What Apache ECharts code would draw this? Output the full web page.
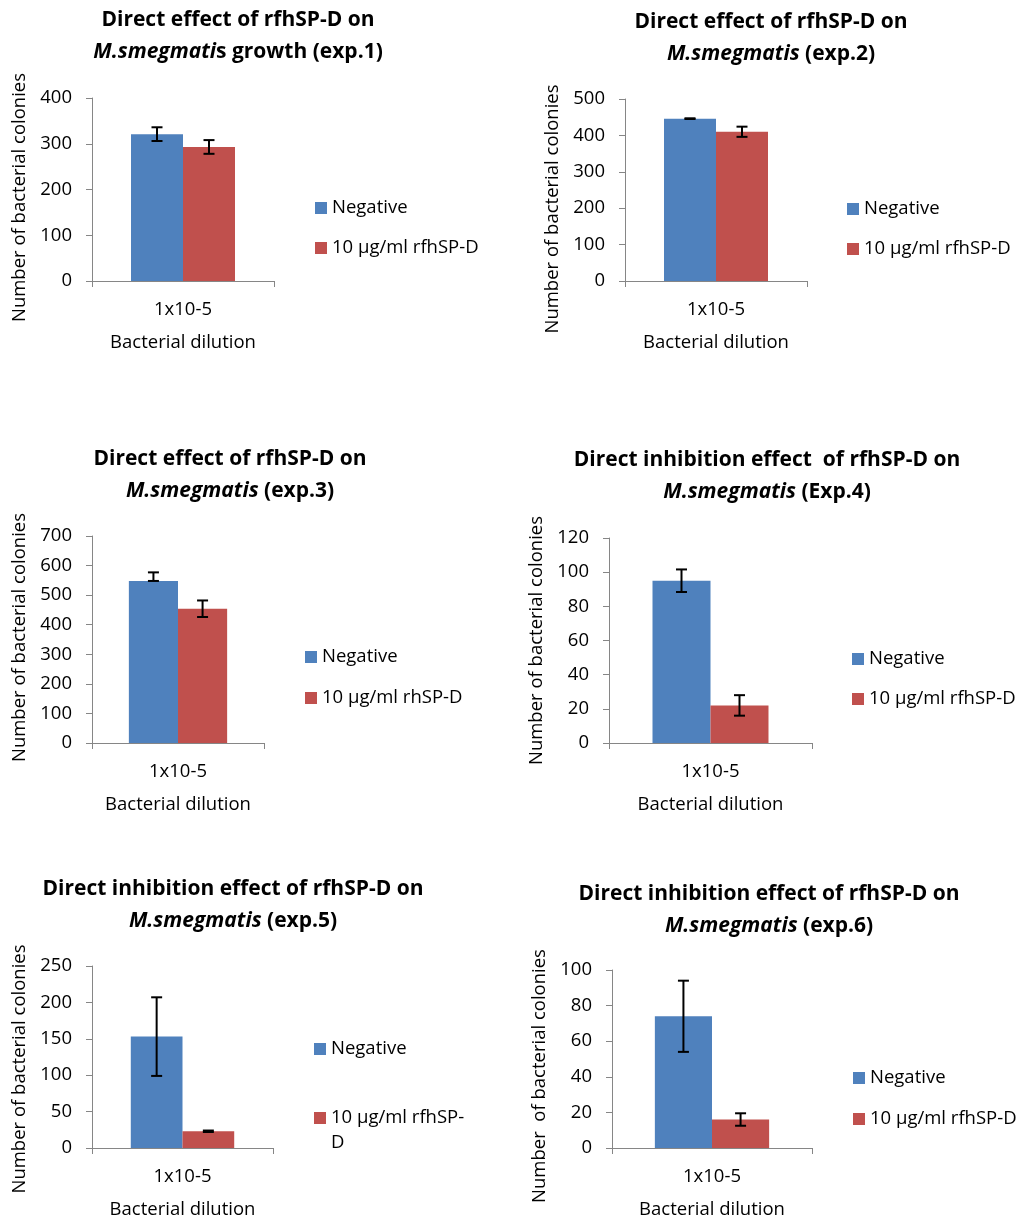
<!DOCTYPE html>
<html><head><meta charset="utf-8">
<script src="https://cdn.jsdelivr.net/npm/echarts@6/dist/echarts.min.js"></script>
<style>html,body{margin:0;padding:0;background:#fff}#c{width:1019px;height:1220px}</style>
</head><body><div id="c"></div>
<script>
// ---- data ----
const categories = ['1x10-5'];
const negativeName = 'Negative';
const treatedNames = ['10 μg/ml rfhSP-D', '10 μg/ml rfhSP-D', '10 μg/ml rhSP-D', '10 μg/ml rfhSP-D', '10 μg/ml rfhSP-D', '10 μg/ml rfhSP-D'];
const negativeValues = [321, 446, 548, 95, 153, 74];
const negativeErrPlus = [15, 1, 29, 6.6, 54, 20];
const negativeErrMinus = [15, 1, 0, 6.6, 54, 20];
const treatedValues = [293, 410, 454, 22, 23, 16];
const treatedErrPlus = [15, 14, 28, 6, 1, 3.5];
const treatedErrMinus = [15, 14, 28, 6, 1, 3.5];
const yMax = [400, 500, 700, 120, 250, 100];
const yInterval = [100, 100, 100, 20, 50, 20];
const titleLine1 = ['Direct effect of rfhSP-D on', 'Direct effect of rfhSP-D on', 'Direct effect of rfhSP-D on',
  'Direct inhibition effect  of rfhSP-D on', 'Direct inhibition effect of rfhSP-D on', 'Direct inhibition effect of rfhSP-D on'];
const titleItalic = ['M.smegmati', 'M.smegmatis', 'M.smegmatis', 'M.smegmatis', 'M.smegmatis', 'M.smegmatis'];
const titleRest = ['s growth (exp.1)', ' (exp.2)', ' (exp.3)', ' (Exp.4)', ' (exp.5)', ' (exp.6)'];
const yAxisNames = ['Number of bacterial colonies', 'Number of bacterial colonies', 'Number of bacterial colonies',
  'Number of bacterial colonies', 'Number of bacterial colonies', 'Number  of bacterial colonies'];
const xAxisName = 'Bacterial dilution';

// ---- layout ----
const FONT = 'Open Sans';
const FS = 18.5;
const TFS = 21;
const grids = [
  {left: 92, top: 98, width: 182, height: 183},
  {left: 625, top: 99, width: 182, height: 182},
  {left: 92, top: 536, width: 172, height: 207},
  {left: 609, top: 538, width: 203, height: 205},
  {left: 92, top: 966, width: 181, height: 183},
  {left: 612, top: 970, width: 200, height: 179}
];
const titlePos = [[238, 4], [771, 6], [230, 443], [767, 444.5], [233, 873], [769, 878.5]];
const legendPos = [[315, 208, 248], [847, 209, 249], [305, 657, 698], [852, 659, 699], [314, 1049, 1118], [853, 1078, 1119]];
const yNameShift = [8, 19, -2, 0, 12, 17];
const BAR_FRAC = 0.2857;
const BLUE = '#4F81BD', RED = '#C0504D', AXIS = '#868686';

const option = {
  animation: false,
  backgroundColor: '#fff',
  textStyle: {fontFamily: FONT},
  title: [], legend: [], grid: [], xAxis: [], yAxis: [], series: []
};

function errSeries(i, values, plus, minus, side) {
  return {
    type: 'custom', xAxisIndex: i, yAxisIndex: i, z: 10, silent: true,
    data: [[0, values[i] - minus[i], values[i] + plus[i]]],
    renderItem: function (params, api) {
      const lo = api.coord([api.value(0), api.value(1)]);
      const hi = api.coord([api.value(0), api.value(2)]);
      const band = api.size([1, 0])[0];
      const x = lo[0] + side * band * BAR_FRAC / 2;
      const hw = 5.5;
      const st = {stroke: '#000', lineWidth: 2};
      return {type: 'group', children: [
        {type: 'line', shape: {x1: x, y1: lo[1], x2: x, y2: hi[1]}, style: st},
        {type: 'line', shape: {x1: x - hw, y1: lo[1], x2: x + hw, y2: lo[1]}, style: st},
        {type: 'line', shape: {x1: x - hw, y1: hi[1], x2: x + hw, y2: hi[1]}, style: st}
      ]};
    }
  };
}

for (let i = 0; i < 6; i++) {
  option.title.push({
    text: titleLine1[i] + '\n{i|' + titleItalic[i] + '}' + titleRest[i],
    left: titlePos[i][0], top: titlePos[i][1], textAlign: 'center', padding: 0,
    textStyle: {fontFamily: FONT, fontSize: TFS, fontWeight: 'bold', color: '#000', lineHeight: 32,
      rich: {i: {fontFamily: FONT, fontSize: TFS, fontWeight: 'bold', fontStyle: 'italic', color: '#000', lineHeight: 32}}}
  });
  option.grid.push(Object.assign({containLabel: false}, grids[i]));
  option.xAxis.push({
    type: 'category', gridIndex: i, data: categories,
    name: xAxisName, nameLocation: 'middle', nameGap: 52, nameMoveOverlap: false,
    nameTextStyle: {fontFamily: FONT, fontSize: FS, color: '#000'},
    axisLine: {lineStyle: {color: AXIS, width: 1}},
    axisTick: {show: true, length: 6, lineStyle: {color: AXIS}},
    axisLabel: {fontFamily: FONT, fontSize: FS, color: '#000', margin: 19},
    splitLine: {show: false}
  });
  const s = yNameShift[i];
  option.yAxis.push({
    type: 'value', gridIndex: i, min: 0, max: yMax[i], interval: yInterval[i],
    name: yAxisNames[i], nameLocation: 'middle', nameGap: 63, nameMoveOverlap: false,
    nameTextStyle: {fontFamily: FONT, fontSize: FS, color: '#000',
      padding: s >= 0 ? [0, 2 * s, 0, 0] : [0, 0, 0, -2 * s]},
    axisLine: {show: true, lineStyle: {color: AXIS, width: 1}},
    axisTick: {show: true, length: 6, lineStyle: {color: AXIS}},
    axisLabel: {fontFamily: FONT, fontSize: FS, color: '#000', margin: 20},
    splitLine: {show: false}
  });
  option.series.push({
    type: 'bar', name: negativeName, xAxisIndex: i, yAxisIndex: i,
    data: [negativeValues[i]], barWidth: (BAR_FRAC * 100) + '%', barGap: '0%',
    itemStyle: {color: BLUE}
  });
  option.series.push({
    type: 'bar', name: treatedNames[i], xAxisIndex: i, yAxisIndex: i,
    data: [treatedValues[i]], barWidth: (BAR_FRAC * 100) + '%', barGap: '0%',
    itemStyle: {color: RED}
  });
  option.series.push(errSeries(i, negativeValues, negativeErrPlus, negativeErrMinus, -1));
  option.series.push(errSeries(i, treatedValues, treatedErrPlus, treatedErrMinus, 1));

  const lp = legendPos[i];
  const legBase = {orient: 'vertical', padding: 0, itemWidth: 12, itemHeight: 12, itemGap: 6,
    icon: 'rect', selectedMode: false};
  option.legend.push(Object.assign({}, legBase, {
    data: [negativeName], left: lp[0], top: lp[1] - 10,
    textStyle: {fontFamily: FONT, fontSize: FS, color: '#000', lineHeight: 20}
  }));
  if (i === 4) {
    option.legend.push(Object.assign({}, legBase, {
      data: [treatedNames[i]], left: lp[0], top: lp[2] - 37.5,
      formatter: function (n) { return '\n10 μg/ml rfhSP-\nD'; },
      textStyle: {fontFamily: FONT, fontSize: FS, color: '#000', lineHeight: 25}
    }));
  } else {
    option.legend.push(Object.assign({}, legBase, {
      data: [treatedNames[i]], left: lp[0], top: lp[2] - 10,
      textStyle: {fontFamily: FONT, fontSize: FS, color: '#000', lineHeight: 20}
    }));
  }
}

const chart = echarts.init(document.getElementById('c'), null, {renderer: 'canvas'});
chart.setOption(option);
</script>
</body></html>
